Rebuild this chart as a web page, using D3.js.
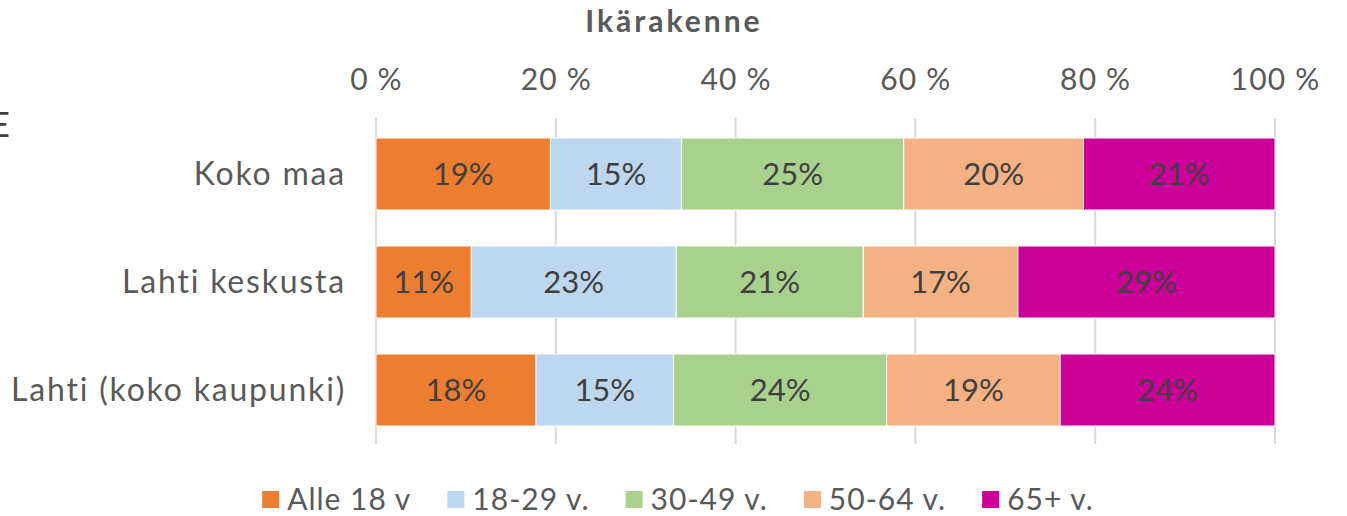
<!DOCTYPE html>
<html>
<head>
<meta charset="utf-8">
<script src="https://cdn.jsdelivr.net/npm/d3@7"></script>
<style>
  body { margin: 0; background: #fff; }
  text { font-family: Lato, "Open Sans", sans-serif; }
</style>
</head>
<body>
<div id="chart"></div>
<script>
var categories = ['Koko maa', 'Lahti keskusta', 'Lahti (koko kaupunki)'];
var seriesNames = ['Alle 18 v', '18-29 v.', '30-49 v.', '50-64 v.', '65+ v.'];
var seriesColors = ['#ED7D31', '#BDD7EE', '#A9D18E', '#F4B183', '#CC0099'];
var alle18 = [19.4, 10.6, 17.8];
var v18_29 = [14.6, 22.8, 15.3];
var v30_49 = [24.7, 20.8, 23.7];
var v50_64 = [20.0, 17.2, 19.3];
var v65 = [21.3, 28.6, 23.9];
var ticks = [0, 20, 40, 60, 80, 100];

var W = 1347, H = 516;
var svg = d3.select('#chart').append('svg')
    .attr('width', W)
    .attr('height', H);

var series = [alle18, v18_29, v30_49, v50_64, v65];
var rows = categories.map(function(c, i) {
    var o = { cat: c };
    seriesNames.forEach(function(s, j) { o[s] = series[j][i]; });
    return o;
});
var stacked = d3.stack().keys(seriesNames)(rows);

var x = d3.scaleLinear().domain([0, 100]).range([376, 1275]);
var y = d3.scaleBand().domain(categories).range([120, 444])
    .paddingInner(1 / 3).paddingOuter(1 / 6);

// title
svg.append('text')
    .attr('x', 674).attr('y', 32)
    .attr('text-anchor', 'middle')
    .attr('font-size', 30).attr('font-weight', 'bold')
    .attr('letter-spacing', 3)
    .attr('fill', '#595959')
    .text('Ikärakenne');

// cut-off letter at the left edge
svg.append('text')
    .attr('x', 10).attr('y', 137)
    .attr('text-anchor', 'end')
    .attr('font-size', 34)
    .attr('fill', '#404040')
    .text('E');

// gridlines
svg.append('g').selectAll('line')
    .data(ticks)
    .enter().append('line')
    .attr('x1', function(d) { return x(d); })
    .attr('x2', function(d) { return x(d); })
    .attr('y1', 118).attr('y2', 444)
    .attr('stroke', '#d9d9d9')
    .attr('stroke-width', 2);

// top axis
var ax = svg.append('g')
    .attr('transform', 'translate(0,90)')
    .call(d3.axisTop(x).tickValues(ticks).tickSize(0).tickPadding(0)
        .tickFormat(function(d) { return d + ' %'; }));
ax.select('.domain').remove();
ax.selectAll('text')
    .attr('font-family', 'Lato, sans-serif')
    .attr('font-size', 30)
    .attr('letter-spacing', 1.2)
    .attr('fill', '#595959')
    .attr('dy', 0);

// category labels
var yAx = svg.append('g')
    .attr('transform', 'translate(346,0)')
    .call(d3.axisLeft(y).tickSize(0).tickPadding(0));
yAx.select('.domain').remove();
yAx.selectAll('text')
    .attr('font-family', 'Lato, sans-serif')
    .attr('font-size', 32)
    .attr('letter-spacing', 1.8)
    .attr('fill', '#595959')
    .attr('dy', '0.35em');

// bars
var layer = svg.append('g').selectAll('g')
    .data(stacked)
    .enter().append('g')
    .attr('fill', function(d, i) { return seriesColors[i]; });

layer.selectAll('rect')
    .data(function(d) { return d; })
    .enter().append('rect')
    .attr('x', function(d) { return x(d[0]); })
    .attr('y', function(d) { return y(d.data.cat); })
    .attr('width', function(d) { return x(d[1]) - x(d[0]); })
    .attr('height', y.bandwidth())
    .attr('stroke', '#fff')
    .attr('stroke-width', 1);

layer.selectAll('text')
    .data(function(d) { return d; })
    .enter().append('text')
    .attr('x', function(d) { return (x(d[0]) + x(d[1])) / 2; })
    .attr('y', function(d) { return y(d.data.cat) + y.bandwidth() / 2; })
    .attr('dy', '0.35em')
    .attr('text-anchor', 'middle')
    .attr('font-size', 31)
    .attr('fill', '#404040')
    .text(function(d) { return Math.round(d[1] - d[0]) + '%'; });

// legend
var legend = svg.append('g');
var items = legend.selectAll('g')
    .data(seriesNames)
    .enter().append('g');
items.append('rect')
    .attr('width', 17).attr('height', 17)
    .attr('y', -8)
    .attr('fill', function(d, i) { return seriesColors[i]; });
items.append('text')
    .attr('x', 25)
    .attr('dy', '0.35em')
    .attr('font-size', 30)
    .attr('letter-spacing', 1)
    .attr('fill', '#595959')
    .text(function(d) { return d; });

var offsets = [], pos = 0, gap = 36;
items.each(function() {
    offsets.push(pos);
    pos += this.getBBox().width + gap;
});
var start = 678 - (pos - gap) / 2;
items.attr('transform', function(d, i) {
    return 'translate(' + (start + offsets[i]) + ',499)';
});
</script>
</body>
</html>
